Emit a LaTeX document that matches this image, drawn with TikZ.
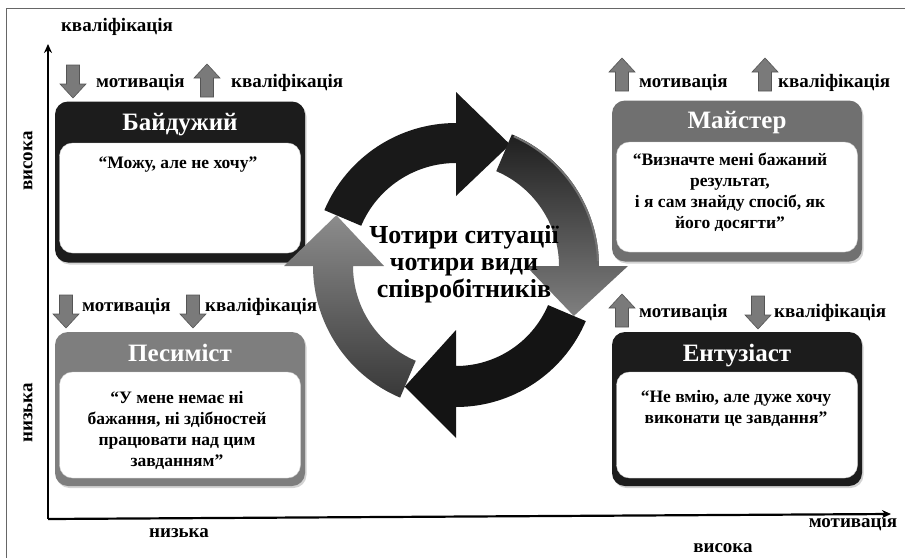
\documentclass[tikz,border=0pt]{standalone}
\usepackage{fontspec}
\setmainfont{Liberation Serif}
\usetikzlibrary{arrows.meta,shadows}
\definecolor{darkbox}{HTML}{1C1C1C}
\definecolor{midbox}{HTML}{707070}
\definecolor{greybox}{HTML}{7E7E7E}
\definecolor{smallarr}{HTML}{7A7A7A}
\definecolor{smallarredge}{HTML}{555555}
\begin{document}
\begin{tikzpicture}[x=1pt,y=-1pt,
  outerbox/.style={rounded corners=13pt, minimum width=250pt, minimum height=161pt, inner sep=0pt,
     drop shadow={opacity=0.35, shadow xshift=1.5pt, shadow yshift=-2pt}},
  innerbox/.style={fill=white, draw=black!20, rounded corners=13pt, minimum width=241pt, minimum height=110pt, inner sep=0pt},
  titletext/.style={text=white, font=\bfseries\fontsize{25}{27}\selectfont, inner sep=0pt, anchor=base},
  quotetext/.style={font=\bfseries\fontsize{17.5}{21}\selectfont, align=center, inner sep=0pt},
  lab/.style={font=\bfseries\fontsize{19}{21}\selectfont, anchor=west, inner sep=0pt},
  axlab/.style={font=\bfseries\fontsize{19}{21}\selectfont, inner sep=0pt},
  centertext/.style={font=\bfseries\fontsize{26}{27}\selectfont, align=center, inner sep=0pt},
  uparr/.pic={\filldraw[fill=smallarr, draw=smallarredge, line width=0.6pt]
      (-6.5,16) -- (-6.5,-3) -- (-13,-3) -- (0,-17) -- (13,-3) -- (6.5,-3) -- (6.5,16) -- cycle;},
  downarr/.pic={\filldraw[fill=smallarr, draw=smallarredge, line width=0.6pt]
      (-6.5,-16) -- (-6.5,3) -- (-13,3) -- (0,17) -- (13,3) -- (6.5,3) -- (6.5,-16) -- cycle;}
]
\useasboundingbox (0,0) rectangle (905,557);
\clip (0,0) rectangle (905,557);
% frame
\draw[black!60, line width=1.2pt] (6.5,8.5) rectangle (912,570);

% axes
\coordinate (origin) at (48,519);
\coordinate (ytop) at (48,44);
\coordinate (xend) at (891,514);
\draw[line width=2.2pt, -{Stealth[length=9pt,width=8pt]}] (origin) -- (ytop);
\draw[line width=2.2pt, -{Stealth[length=9pt,width=8pt]}] (origin) -- (xend);

% axis labels
\node[axlab] (lq) at (117,27) {кваліфікація};
\node[axlab, rotate=90] (lhigh) at (28,161) {висока};
\node[axlab, rotate=90] (llow) at (28,413) {низька};
\node[axlab] (lxlow) at (179,533) {низька};
\node[axlab] (lxmot) at (853,523) {мотивація};
\node[axlab] (lxhigh) at (723,548) {висока};

% ---------- boxes ----------
% Байдужий
\node[outerbox, fill=darkbox] (bo) at (180,182) {};
\node[innerbox] (bi) at (180,198) {};
\node[titletext] (bt) at (180,130) {Байдужий};
\node[quotetext] (bq) at (178,165) {“Можу, але не хочу”};

% Майстер
\node[outerbox, fill=midbox] (mo) at (737,181) {};
\node[innerbox] (mi) at (737,197) {};
\node[titletext] (mt) at (737,128) {Майстер};
\node[quotetext] (mq) at (730,192) {“Визначте мені бажаний\\результат,\\і я сам знайду спосіб, як\\його досягти”};

% Песиміст
\node[outerbox, fill=greybox, minimum height=154pt] (po) at (180,409) {};
\node[innerbox, minimum height=106pt] (pi) at (180,425) {};
\node[titletext] (pt) at (180,361) {Песиміст};
\node[quotetext] (pq) at (177,430) {“У мене немає ні\\бажання, ні здібностей\\працювати над цим\\завданням”};

% Ентузіаст
\node[outerbox, fill=darkbox, minimum height=154pt] (eo) at (737,409) {};
\node[innerbox, minimum height=106pt] (ei) at (737,425) {};
\node[titletext] (et) at (737,361) {Ентузіаст};
\node[quotetext] (eq) at (736,408) {“Не вмію, але дуже хочу\\виконати це завдання”};

% ---------- small arrows and labels ----------
\pic (ba1) at (73,81) {downarr};
\node[lab] (bl1) at (96,83) {мотивація};
\pic (ba2) at (207,81) {uparr};
\node[lab] (bl2) at (231,83) {кваліфікація};

\pic (ma1) at (622,75) {uparr};
\node[lab] (ml1) at (639,83) {мотивація};
\pic (ma2) at (765,75) {uparr};
\node[lab] (ml2) at (778,83) {кваліфікація};

\pic (pa1) at (66,311) {downarr};
\node[lab] (pl1) at (82,307) {мотивація};
\pic (pa2) at (193,311) {downarr};
\node[lab] (pl2) at (205,307) {кваліфікація};

\pic (ea1) at (622,311) {uparr};
\node[lab] (el1) at (639,313) {мотивація};
\pic (ea2) at (758,312) {downarr};
\node[lab] (el2) at (774,313) {кваліфікація};

% ---------- cycle ----------
\begin{scope}[shift={(456,266)}, yscale=-1]
  % top (dark)
  \fill[black!90] (157:143) arc[start angle=157, end angle=90, radius=143]
     -- (90:174) -- (66:133) -- (90:70) -- (90:103)
     arc[start angle=90, end angle=157, radius=103] -- cycle;
  % right (gradient)
  \shade[top color=black!88, bottom color=black!50] (67:143) arc[start angle=67, end angle=0, radius=143]
     -- (0:172) -- (-23:128) -- (0:70) -- (0:103)
     arc[start angle=0, end angle=67, radius=103] -- cycle;
  \draw[black!55, line width=2pt] (66:142) arc[start angle=66, end angle=2, radius=142];
  % bottom (dark)
  \fill[black!92] (-23:141) arc[start angle=-23, end angle=-90, radius=141]
     -- (-90:172) -- (-113:131) -- (-90:64) -- (-90:100)
     arc[start angle=-90, end angle=-23, radius=100] -- cycle;
  % left (grey gradient)
  \shade[top color=black!45, bottom color=black!78] (247:143) arc[start angle=247, end angle=180, radius=143]
     -- (180:172) -- (157:130) -- (180:72) -- (180:103)
     arc[start angle=180, end angle=247, radius=103] -- cycle;
\end{scope}
\node[centertext] (ct) at (464,264) {Чотири ситуації\\чотири види\\співробітників};
\end{tikzpicture}
\end{document}
